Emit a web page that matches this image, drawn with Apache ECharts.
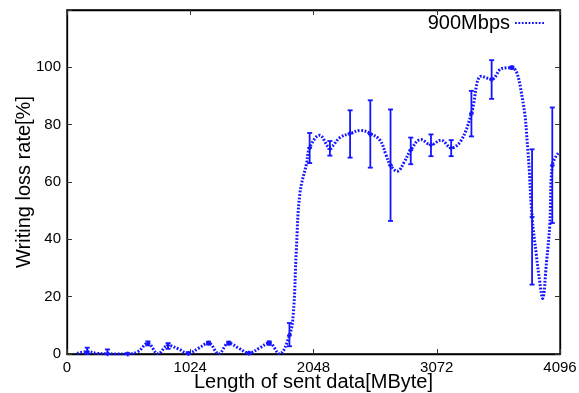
<!DOCTYPE html>
<html>
<head>
<meta charset="utf-8">
<script src="https://cdn.jsdelivr.net/npm/echarts@6/dist/echarts.min.js"></script>
<style>
  html, body { margin: 0; padding: 0; background: #fff; }
  #chart { width: 579px; height: 393px; }
</style>
</head>
<body>
<div id="chart"></div>
<script>
// measured points (x in MByte), mean with min/max of the runs
const pointX = [168, 336, 504, 672, 840, 1008, 1176, 1344, 1512, 1680, 1848, 2016,
  2184, 2352, 2520, 2688, 2856, 3024, 3192, 3360, 3528, 3696, 3864, 4032];
const pointMean = [0.7, 0.1, 0, 3.7, 3.0, 0.2, 3.8, 3.8, 0.3, 3.8, 6.5, 71.9,
  71.5, 76.9, 76.6, 65.8, 71.1, 73.0, 71.9, 83.9, 95.8, 99.9, 47.8, 65.8];
const pointLow = [0, 0, 0, 3.0, 1.8, 0, 3.3, 3.3, 0, 3.2, 2.7, 66.6,
  69.2, 68.5, 65.0, 46.4, 66.2, 69.0, 69.0, 75.9, 89.0, 99.5, 24.2, 45.7];
const pointHigh = [2.2, 1.6, 0.3, 4.4, 3.8, 0.6, 4.3, 4.3, 0.6, 4.4, 10.8, 77.1,
  74.3, 85.0, 88.5, 85.3, 75.5, 76.6, 74.6, 91.8, 102.5, 100.3, 71.4, 86.0];

// smoothed curve as drawn in the figure
const curveX = [84, 168, 252, 336, 420, 504, 588, 672, 756, 840, 924, 1008, 1092, 1176,
  1260, 1344, 1428, 1512, 1596, 1680, 1764, 1848, 1880, 1905, 1935, 1990, 2016, 2100,
  2184, 2268, 2352, 2440, 2520, 2600, 2650, 2688, 2745, 2800, 2856, 2940, 3024, 3108,
  3192, 3276, 3360, 3444, 3528, 3612, 3696, 3780, 3830, 3864, 3900, 3928, 3951, 3984,
  4011, 4032, 4090];
const curveY = [0.2, 0.8, 0.2, 0.1, 0, 0, 0.8, 3.7, 0.1, 3.0, 1.8, 0.2, 2.0, 3.8,
  0.1, 3.8, 2.0, 0.3, 2.0, 3.8, 0.1, 6.5, 14, 36, 56, 66.4, 71.9, 76.3,
  72.1, 75.5, 76.9, 78.0, 76.9, 74.6, 69.5, 65.8, 63.8, 66.8, 71.1, 74.8, 73.0, 74.6,
  71.9, 74.6, 83.9, 96.9, 95.8, 99.6, 99.9, 90, 70.5, 47.8, 34.4, 25.1, 19.4, 32.1,
  45, 65.8, 70.5];

const xTicks = [0, 1024, 2048, 3072, 4096];
const seriesName = "900Mbps";

const blue = "#1414ff";
const font = "'Liberation Sans', Arial, Helvetica, sans-serif";

const chart = echarts.init(document.getElementById("chart"), null, { renderer: "canvas" });

const errData = pointX.map((x, i) => [x, pointMean[i], pointLow[i], pointHigh[i]]);
const lineData = curveX.map((x, i) => [x, curveY[i]]);

const axisBase = {
  type: "value",
  axisLine: { show: true, onZero: false, lineStyle: { color: "#000", width: 1.3 } },
  axisTick: { show: true, inside: true, length: 5, lineStyle: { color: "#333", width: 1 } },
  splitLine: { show: false },
};

chart.setOption({
  animation: false,
  backgroundColor: "#fff",
  grid: {
    left: 67,
    right: 19,
    top: 10,
    bottom: 39,
    outerBoundsMode: "none",
    containLabel: false,
    show: true,
    borderColor: "#000",
    borderWidth: 1.3,
  },
  legend: {
    data: [seriesName],
    right: 28,
    top: 8,
    align: "right",
    itemWidth: 30,
    itemHeight: 12,
    itemGap: 6,
    itemStyle: { opacity: 0 },
    textStyle: { fontFamily: font, fontSize: 20, color: "#000" },
  },
  xAxis: [
    {
      ...axisBase,
      min: 0,
      max: 4096,
      interval: 1024,
      position: "bottom",
      name: "Length of sent data[MByte]",
      nameLocation: "middle",
      nameGap: 18,
      nameMoveOverlap: false,
      nameTextStyle: { fontFamily: font, fontSize: 20, color: "#000" },
      axisLabel: {
        fontFamily: font,
        fontSize: 15,
        color: "#000",
        margin: 6,
        formatter: (v) => (xTicks.includes(v) ? String(v) : ""),
      },
    },
    {
      ...axisBase,
      min: 0,
      max: 4096,
      interval: 1024,
      position: "top",
      axisLabel: { show: false },
    },
  ],
  yAxis: [
    {
      ...axisBase,
      min: 0,
      max: 120,
      interval: 20,
      position: "left",
      name: "Writing loss rate[%]",
      nameLocation: "middle",
      nameGap: 33,
      nameMoveOverlap: false,
      nameTextStyle: { fontFamily: font, fontSize: 20, color: "#000" },
      axisLabel: {
        fontFamily: font,
        fontSize: 15,
        color: "#000",
        margin: 6,
        formatter: (v) => (v === 120 ? "" : String(v)),
      },
    },
    {
      ...axisBase,
      min: 0,
      max: 120,
      interval: 20,
      position: "right",
      axisLabel: { show: false },
    },
  ],
  series: [
    {
      name: seriesName,
      type: "line",
      data: lineData,
      smooth: 0.4,
      showSymbol: false,
      symbol: "none",
      lineStyle: { color: blue, width: 3, type: [1.8, 1.6], cap: "butt" },
      itemStyle: { color: blue },
      z: 3,
    },
    {
      name: "errorbars",
      type: "custom",
      data: errData,
      encode: { x: 0, y: [1, 2, 3] },
      renderItem: (params, api) => {
        const x = api.value(0);
        const mid = api.coord([x, api.value(1)]);
        const lo = api.coord([x, api.value(2)]);
        const hi = api.coord([x, api.value(3)]);
        const cap = 2.5;
        const m = 2.4;
        const style = { stroke: blue, lineWidth: 1.8 };
        const seg = (x1, y1, x2, y2) => ({
          type: "line",
          shape: { x1, y1, x2, y2 },
          style,
        });
        return {
          type: "group",
          children: [
            seg(lo[0], lo[1], hi[0], hi[1]),
            seg(lo[0] - cap, lo[1], lo[0] + cap, lo[1]),
            seg(hi[0] - cap, hi[1], hi[0] + cap, hi[1]),
            seg(mid[0] - m, mid[1], mid[0] + m, mid[1]),
            seg(mid[0], mid[1] - m, mid[0], mid[1] + m),
          ],
        };
      },
      z: 4,
    },
    {
      // keeps the mirrored top / right axes drawn
      name: "mirror",
      type: "line",
      xAxisIndex: 1,
      yAxisIndex: 1,
      data: [],
      silent: true,
    },
  ],
});
</script>
</body>
</html>
